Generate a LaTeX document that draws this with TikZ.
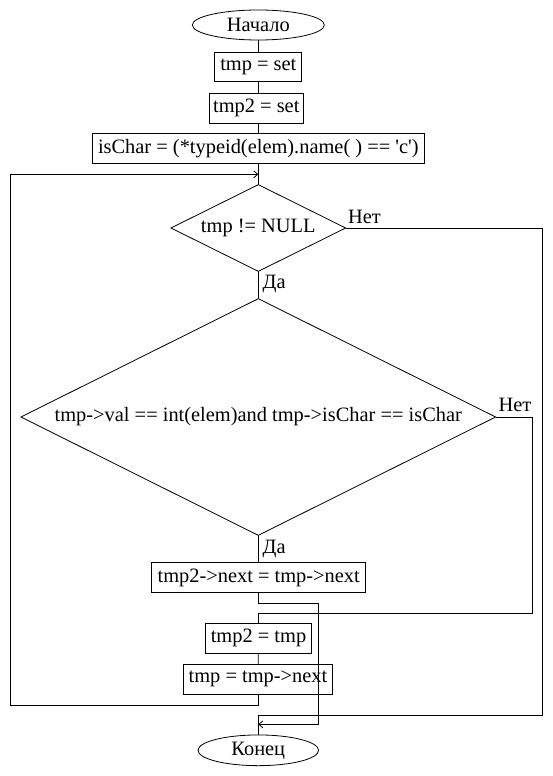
\documentclass[tikz,border=0pt]{standalone}
\usepackage{fontspec}
\setmainfont{Liberation Serif}
\usetikzlibrary{shapes.geometric,arrows.meta,calc}
\begin{document}
\begin{tikzpicture}[x=1pt,y=-1pt,line width=0.8pt,
  every node/.style={font=\fontsize{20.4}{24}\selectfont,inner sep=0pt},
  proc/.style={draw,rectangle,minimum height=30pt},
  term/.style={draw,ellipse,minimum height=30pt},
  dec/.style={draw,diamond,aspect=2},
  lbl/.style={draw=none},
  arr/.style={-{Straight Barb[length=4pt,width=7pt]}}]
\fill[white] (0,0) rectangle (552,776);
\useasboundingbox (0,0) rectangle (552,776);

\node[term,minimum width=132pt] (start) at (258.3,25) {Начало};
\node[proc,minimum width=87pt,minimum height=29pt] (b1) at (258.3,66.5) {tmp = set};
\node[proc,minimum width=94pt] (b2) at (256.3,108) {tmp2 = set};
\node[proc,minimum width=331.5pt] (b3) at (258.3,148.3) {isChar = (*typeid(elem).name( ) == \textquotesingle c\textquotesingle)};
\node[dec,minimum width=175pt,minimum height=87pt] (d1) at (258.3,228) {tmp != NULL};
\node[dec,minimum width=475pt,minimum height=237pt] (d2) at (258.3,417) {tmp->val == int(elem)and tmp->isChar == isChar};
\node[proc,minimum width=214pt] (b4) at (258.7,577.5) {tmp2->next = tmp->next};
\node[proc,minimum width=106pt] (b5) at (258.5,638.3) {tmp2 = tmp};
\node[proc,minimum width=149.4pt] (b6) at (258,679.3) {tmp = tmp->next};
\node[term,minimum width=120.6pt,minimum height=30.7pt] (end) at (258.3,750.3) {Конец};

\node[lbl,anchor=south west] (no1) at ($(d1.east)+(1.5,-4)$) {Нет};
\node[lbl,anchor=south west] (no2) at ($(d2.east)+(2,-5)$) {Нет};
\node[lbl,anchor=base west] (yes1) at (262.3,288.5) {Да};
\node[lbl,anchor=base west] (yes2) at (262.3,553.5) {Да};

\coordinate (lb) at (10.7,705);
\coordinate (ja) at (258.3,174.3);
\coordinate (rr) at (542,715);
\coordinate (r2) at (532.7,613.3);
\coordinate (k1) at (318.3,603.3);
\coordinate (k2) at (318.3,724.3);

\draw (start) -- (b1);
\draw (b1.south) -- (b1.south |- b2.north);
\draw (b1.south |- b2.south) -- (b3.north);
\draw (b3) -- (d1);
\draw (d1) -- (d2);
\draw (d2.south) -- (d2.south |- b4.north);
\draw (b5) -- (b6);

\draw[arr] (b6.south) |- (lb) |- (ja);
\draw (d1.east) -| (rr) -- (rr -| end.north) -- (end.north);
\draw (d2.east) -| (r2) -- (r2 -| b5.north) -- (b5.north);
\draw[arr] (b4.south) |- (k1) -- (k2) -- (k2 -| end.north);
\end{tikzpicture}
\end{document}
